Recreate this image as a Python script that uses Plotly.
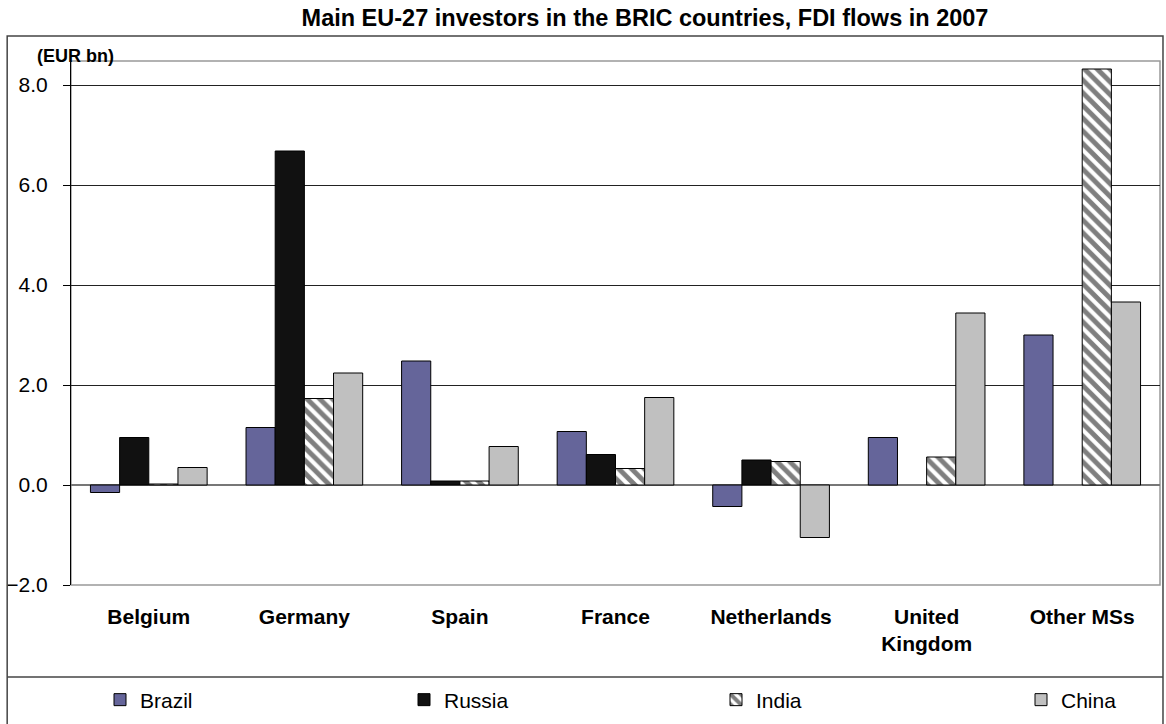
import plotly.graph_objects as go

categories = ["Belgium", "Germany", "Spain", "France", "Netherlands", "United<br>Kingdom", "Other MSs"]
brazil = [-0.15, 1.15, 2.48, 1.07, -0.43, 0.95, 3.0]
russia = [0.95, 6.68, 0.08, 0.61, 0.50, None, None]
india = [0.02, 1.73, 0.08, 0.33, 0.47, 0.56, 8.32]
china = [0.35, 2.24, 0.77, 1.75, -1.05, 3.44, 3.66]
y_ticks = [-2, 0, 2, 4, 6, 8]

FONT = "Liberation Sans, Arial, sans-serif"
L, R, T, B = 68, 6, 61, 139
W, H = 1166, 724
pw, ph = W - L - R, H - T - B

def px_x(x):
    return (x - L) / pw

def px_y(y):
    return (H - B - y) / ph

fig = go.Figure()
line = dict(color="#000000", width=1)
fig.add_trace(go.Bar(name="Brazil", x=categories, y=brazil, legend="legend", showlegend=True,
                     marker=dict(color="#65659A", line=line)))
fig.add_trace(go.Bar(name="Russia", x=categories, y=russia, legend="legend2", showlegend=True,
                     marker=dict(color="#111111", line=line)))
fig.add_trace(go.Bar(name="India", x=categories, y=india, legend="legend3", showlegend=True,
                     marker=dict(color="white", line=line,
                                 pattern=dict(shape="\\", fgcolor="#000000", bgcolor="white",
                                              size=9, solidity=0.55))))
fig.add_trace(go.Bar(name="China", x=categories, y=china, legend="legend4", showlegend=True,
                     marker=dict(color="#C0C0C0", line=line)))

shapes = [
    dict(type="rect", xref="paper", yref="paper", x0=0, x1=1, y0=0, y1=1,
         line=dict(color="#999999", width=1.5), layer="below"),
    dict(type="rect", xref="paper", yref="paper", x0=px_x(4), x1=px_x(1163),
         y0=px_y(728), y1=px_y(36), line=dict(color="#444444", width=1.5)),
    dict(type="line", xref="paper", yref="paper", x0=px_x(4), x1=px_x(1163),
         y0=px_y(677), y1=px_y(677), line=dict(color="#444444", width=1.5)),
]

def leg(xpx):
    return dict(orientation="h", xref="container", yref="container",
                x=xpx / W, xanchor="left", y=1 - 700 / H, yanchor="middle",
                font=dict(size=21, family=FONT, color="#000000"),
                bgcolor="rgba(0,0,0,0)")

fig.update_layout(
    width=W, height=H,
    margin=dict(l=L, r=R, t=T, b=B),
    paper_bgcolor="white", plot_bgcolor="white",
    font=dict(family=FONT, color="#000000"),
    showlegend=True,
    barmode="group", bargap=0.25, bargroupgap=0,
    title=dict(text="<b>Main EU-27 investors in the BRIC countries, FDI flows in 2007</b>",
               x=645 / W, xanchor="center", xref="container",
               y=1 - 18 / H, yanchor="middle", yref="container",
               font=dict(size=23.5, family=FONT, color="#000000")),
    xaxis=dict(showgrid=False, showline=False, ticks="",
               tickfont=dict(size=21, family=FONT, color="#000000", weight="bold"),
               ticklabelstandoff=17),
    yaxis=dict(range=[-2, (H - B - T) / 50 - 2], tickvals=y_ticks,
               tickformat=".1f", showgrid=True, gridcolor="#222222", gridwidth=1,
               zeroline=True, zerolinecolor="#777777", zerolinewidth=1.5,
               showline=True, linecolor="#000000", linewidth=1.2,
               ticks="outside", ticklen=7, tickcolor="#000000",
               tickfont=dict(size=21, family=FONT, color="#000000"),
               ticklabelstandoff=11),
    legend=leg(100), legend2=leg(404), legend3=leg(716), legend4=leg(1021),
    shapes=shapes,
    annotations=[dict(text="<b>(EUR bn)</b>", xref="paper", yref="paper",
                      x=px_x(73), y=px_y(56), xanchor="center", yanchor="middle",
                      showarrow=False, font=dict(size=18, family=FONT, color="#000000"))],
)

fig.write_html("out.html", config={"displayModeBar": False},
               post_script="document.body.style.margin='0';")
